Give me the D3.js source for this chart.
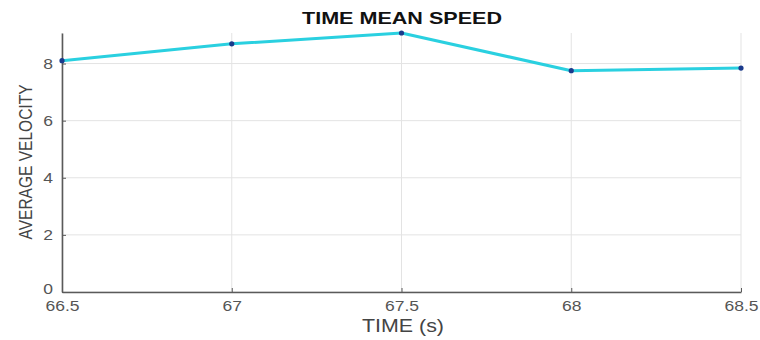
<!DOCTYPE html>
<html>
<head>
<meta charset="utf-8">
<script src="https://cdn.jsdelivr.net/npm/d3@7"></script>
<style>
  html, body { margin: 0; padding: 0; background: #fff; }
  svg { display: block; }
</style>
</head>
<body>
<svg id="chart" width="760" height="340"></svg>
<script>
// Time mean speed samples
const times = [66.5, 67, 67.5, 68, 68.5];
const velocities = [8.1, 8.69, 9.07, 7.75, 7.84];
const xTicks = [66.5, 67, 67.5, 68, 68.5];
const yTicks = [0, 2, 4, 6, 8];

const svg = d3.select("#chart");
const margin = { left: 62, right: 19, top: 33, bottom: 48 };
const W = 760, H = 340;
const FONT = "Liberation Sans, Arial, sans-serif";

const x = d3.scaleLinear().domain([66.5, 68.5]).range([margin.left, W - margin.right]);
const y = d3.scaleLinear().domain([0, 9.07]).range([H - margin.bottom, margin.top]);

// grid
svg.append("g").selectAll("line").data(xTicks).join("line")
  .attr("x1", d => x(d)).attr("x2", d => x(d))
  .attr("y1", y(0)).attr("y2", y(9.07))
  .attr("stroke", "#e3e3e3").attr("stroke-width", 1);
svg.append("g").selectAll("line").data(yTicks).join("line")
  .attr("x1", x(66.5)).attr("x2", x(68.5))
  .attr("y1", d => y(d)).attr("y2", d => y(d))
  .attr("stroke", "#e3e3e3").attr("stroke-width", 1);

// axes (ticks point inward)
const xAxis = svg.append("g").attr("transform", `translate(0,${y(0)})`)
  .call(d3.axisBottom(x).tickValues(xTicks).tickSizeInner(-4).tickSizeOuter(0).tickPadding(11)
    .tickFormat(d3.format("")));
const yAxis = svg.append("g").attr("transform", `translate(${x(66.5)},0)`)
  .call(d3.axisLeft(y).tickValues(yTicks).tickSizeInner(-4).tickSizeOuter(0).tickPadding(8));

[xAxis, yAxis].forEach(g => {
  g.select(".domain").attr("stroke", "#5a5a5a").attr("stroke-width", 1.6);
  g.selectAll(".tick line").attr("stroke", "#5a5a5a");
  g.selectAll(".tick text")
    .attr("fill", "#555").attr("font-size", 14)
    .attr("font-family", FONT)
    .each(function () {
      // slightly wider glyphs for the tick numbers
      const len = this.getComputedTextLength();
      d3.select(this).attr("textLength", len * 1.25).attr("lengthAdjust", "spacingAndGlyphs");
    });
});
xAxis.selectAll(".tick text").attr("dy", "0.6em");
yAxis.selectAll(".tick text").attr("dx", "-1");
// the zero label sits just above the x tick labels
yAxis.selectAll(".tick").filter(d => d === 0).select("text").attr("dy", "0.1em");

// line
svg.append("path")
  .datum(times.map((t, i) => [t, velocities[i]]))
  .attr("fill", "none")
  .attr("stroke", "#2ad0e0")
  .attr("stroke-width", 3)
  .attr("stroke-linejoin", "round")
  .attr("d", d3.line().x(d => x(d[0])).y(d => y(d[1])));

// markers
svg.append("g").selectAll("circle").data(times).join("circle")
  .attr("cx", d => x(d))
  .attr("cy", (d, i) => y(velocities[i]))
  .attr("r", 2.6)
  .attr("fill", "#1a3a8c");

// title
svg.append("text")
  .attr("x", 402).attr("y", 24)
  .attr("text-anchor", "middle")
  .attr("font-family", FONT)
  .attr("font-weight", "bold").attr("font-size", 17)
  .attr("textLength", 200)
  .attr("lengthAdjust", "spacingAndGlyphs")
  .attr("fill", "#111")
  .text("TIME MEAN SPEED");

// x label
svg.append("text")
  .attr("x", 403).attr("y", 332)
  .attr("text-anchor", "middle")
  .attr("font-family", FONT)
  .attr("font-size", 18)
  .attr("textLength", 82)
  .attr("lengthAdjust", "spacingAndGlyphs")
  .attr("fill", "#444")
  .text("TIME (s)");

// y label
svg.append("text")
  .attr("transform", `translate(32,162) rotate(-90)`)
  .attr("text-anchor", "middle")
  .attr("font-family", FONT)
  .attr("font-size", 19)
  .attr("textLength", 155)
  .attr("lengthAdjust", "spacingAndGlyphs")
  .attr("fill", "#444")
  .text("AVERAGE VELOCITY");
</script>
</body>
</html>
